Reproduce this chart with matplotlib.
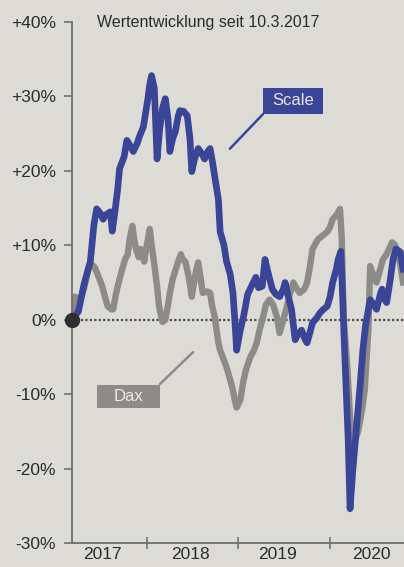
import matplotlib
matplotlib.use("Agg")
import matplotlib.pyplot as plt
from matplotlib.patches import Rectangle
from matplotlib.ticker import FixedLocator, NullFormatter, FixedFormatter

plt.rcParams['font.family'] = ['Liberation Sans', 'DejaVu Sans']

# ---- data (decimal year, % change since 10.3.2017) ----
scale_t = [2017.18, 2017.25, 2017.31, 2017.38, 2017.42, 2017.45, 2017.49, 2017.52, 2017.55, 2017.60,
           2017.62, 2017.65, 2017.68, 2017.70, 2017.75, 2017.78, 2017.81, 2017.85, 2017.89, 2017.92,
           2017.96, 2017.98, 2018.01, 2018.03, 2018.05, 2018.08, 2018.11, 2018.14, 2018.17, 2018.20,
           2018.23, 2018.25, 2018.28, 2018.31, 2018.34, 2018.36, 2018.40, 2018.44, 2018.47, 2018.49,
           2018.52, 2018.56, 2018.60, 2018.63, 2018.67, 2018.69, 2018.72, 2018.74, 2018.78, 2018.80,
           2018.84, 2018.87, 2018.91, 2018.94, 2018.96, 2018.98, 2019.02, 2019.06, 2019.10, 2019.15,
           2019.19, 2019.22, 2019.26, 2019.29, 2019.32, 2019.37, 2019.41, 2019.45, 2019.49, 2019.51,
           2019.54, 2019.58, 2019.62, 2019.65, 2019.69, 2019.73, 2019.75, 2019.78, 2019.81, 2019.86,
           2019.89, 2019.93, 2019.97, 2020.00, 2020.03, 2020.07, 2020.09, 2020.12, 2020.14, 2020.16,
           2020.20, 2020.22, 2020.25, 2020.30, 2020.33, 2020.36, 2020.39, 2020.44, 2020.48, 2020.51,
           2020.55, 2020.57, 2020.60, 2020.62, 2020.66, 2020.69, 2020.72, 2020.77, 2020.80]
scale_v = [0.0, 1.1, 4.7, 7.8, 12.8, 14.9, 14.3, 13.5, 14.1, 14.5,
           11.9, 14.6, 17.6, 20.3, 21.9, 24.1, 23.5, 22.6, 23.6, 24.7,
           25.9, 27.4, 29.7, 31.6, 32.8, 31.1, 21.6, 25.7, 28.4, 29.7,
           27.0, 22.6, 24.3, 25.3, 27.3, 28.1, 28.0, 27.4, 24.3, 19.9,
           21.6, 23.0, 22.3, 21.6, 22.7, 23.0, 20.9, 19.3, 16.2, 11.8,
           10.1, 7.8, 6.1, 3.6, 0.0, -4.1, -1.4, 0.7, 3.4, 4.7,
           5.7, 4.3, 4.5, 8.1, 6.5, 4.1, 3.4, 3.1, 4.1, 5.0,
           3.4, 1.4, -2.7, -2.0, -1.4, -2.7, -3.1, -1.8, -0.4, 0.3,
           0.9, 1.4, 1.8, 3.0, 5.0, 6.8, 8.1, 9.2, 2.7, -4.1,
           -16.2, -25.4, -20.3, -13.1, -8.8, -4.1, -0.7, 2.7, 2.0, 1.4,
           3.4, 4.1, 2.7, 2.3, 5.4, 8.1, 9.5, 9.1, 6.8]

dax_t = [2017.18, 2017.21, 2017.27, 2017.31, 2017.36, 2017.40, 2017.43, 2017.46, 2017.51, 2017.54,
         2017.57, 2017.61, 2017.63, 2017.66, 2017.68, 2017.72, 2017.76, 2017.79, 2017.81, 2017.84,
         2017.86, 2017.88, 2017.91, 2017.93, 2017.97, 2017.99, 2018.02, 2018.03, 2018.05, 2018.08,
         2018.11, 2018.13, 2018.15, 2018.17, 2018.20, 2018.23, 2018.25, 2018.28, 2018.32, 2018.34,
         2018.37, 2018.39, 2018.42, 2018.45, 2018.47, 2018.49, 2018.51, 2018.54, 2018.56, 2018.58,
         2018.61, 2018.66, 2018.69, 2018.71, 2018.74, 2018.78, 2018.80, 2018.84, 2018.87, 2018.91,
         2018.94, 2018.96, 2018.98, 2019.02, 2019.05, 2019.08, 2019.13, 2019.17, 2019.20, 2019.23,
         2019.27, 2019.30, 2019.34, 2019.38, 2019.42, 2019.45, 2019.49, 2019.53, 2019.56, 2019.60,
         2019.64, 2019.67, 2019.72, 2019.75, 2019.78, 2019.81, 2019.85, 2019.87, 2019.91, 2019.97,
         2020.00, 2020.03, 2020.08, 2020.11, 2020.13, 2020.15, 2020.19, 2020.22, 2020.26, 2020.31,
         2020.35, 2020.38, 2020.42, 2020.44, 2020.47, 2020.51, 2020.55, 2020.58, 2020.62, 2020.68,
         2020.71, 2020.73, 2020.77, 2020.80]
dax_v = [0.3, 3.1, 2.7, 4.1, 6.8, 7.4, 7.0, 6.1, 4.5, 3.1,
         1.8, 1.4, 1.4, 3.4, 4.5, 6.4, 8.1, 8.8, 10.8, 12.6,
         10.8, 9.5, 8.4, 9.5, 7.8, 9.5, 11.5, 12.2, 10.1, 7.4,
         4.5, 2.0, 0.7, -0.3, 0.0, 2.0, 3.6, 5.4, 7.0, 7.8,
         8.8, 8.1, 7.8, 6.1, 4.7, 3.1, 4.7, 6.8, 7.7, 6.1,
         3.6, 3.8, 3.6, 2.0, 0.4, -3.1, -4.1, -5.4, -6.4, -8.1,
         -9.5, -10.8, -11.8, -10.8, -8.5, -6.8, -5.0, -4.1, -3.1, -1.4,
         0.4, 2.0, 2.7, 2.0, 0.4, -1.8, 0.0, 1.8, 3.4, 5.0,
         4.1, 3.6, 4.1, 5.0, 7.0, 9.5, 10.4, 10.8, 11.2, 11.8,
         12.4, 13.5, 14.2, 14.9, 10.8, 0.4, -6.4, -13.0, -16.9, -14.9,
         -12.2, -9.5, -1.4, 7.2, 6.1, 5.0, 6.8, 8.1, 8.8, 10.4,
         10.1, 9.5, 7.4, 5.0]

y_ticks = [-30, -20, -10, 0, 10, 20, 30, 40]
y_labels = ['-30%', '-20%', '-10%', '0%', '+10%', '+20%', '+30%', '+40%']
year_ticks = [2018.0, 2019.0, 2020.0]
year_label_pos = [2017.51, 2018.47, 2019.43, 2020.45]
year_labels = ['2017', '2018', '2019', '2020']
title = 'Wertentwicklung seit 10.3.2017'

# ---- style ----
BG = '#dddbd5'
BLUE = '#3b4597'
GREY = '#8c8b88'
TXT = '#2b2b2b'
AX = '#6f6f6f'

W, H = 404, 567
fig = plt.figure(figsize=(W / 100, H / 100), dpi=100, facecolor=BG)
ax = fig.add_axes([72 / W, 1 - 543 / H, 1 - 72 / W, (543 - 22) / H])
ax.set_facecolor(BG)
ax.set_xlim(2017.18, 2020.81)
ax.set_ylim(-30, 40)

for s in ['top', 'right']:
    ax.spines[s].set_visible(False)
for s in ['left', 'bottom']:
    ax.spines[s].set_color(AX)
    ax.spines[s].set_linewidth(1.3)

ax.yaxis.set_major_locator(FixedLocator(y_ticks))
ax.yaxis.set_major_formatter(FixedFormatter(y_labels))
ax.tick_params(axis='y', direction='out', length=6, width=1.2, color=AX,
               labelsize=12.5, labelcolor=TXT, pad=5.5)

ax.xaxis.set_major_locator(FixedLocator(year_ticks))
ax.xaxis.set_major_formatter(NullFormatter())
ax.xaxis.set_minor_locator(FixedLocator(year_label_pos))
ax.xaxis.set_minor_formatter(FixedFormatter(year_labels))
ax.tick_params(axis='x', which='major', direction='inout', length=9, width=1.2, color=AX)
ax.tick_params(axis='x', which='minor', length=0, labelsize=12.5, labelcolor=TXT, pad=3)

# zero line
ax.axhline(0, color='#4a4a4a', lw=1.6, ls=(0, (1, 1)), zorder=1)

# series
ax.plot(dax_t, dax_v, color=GREY, lw=4.6, solid_joinstyle='round', zorder=2)
ax.plot(scale_t, scale_v, color=BLUE, lw=4.8, solid_joinstyle='round', zorder=3)

# start dot
ax.plot([scale_t[0]], [0], 'o', color='#2e2e2e', ms=10, clip_on=False, zorder=6)

# title
ax.text(0.075, 1.0, title, transform=ax.transAxes, ha='left', va='center',
        fontsize=11.5, color=TXT)

# labels with pointers
ax.annotate('', xy=(2018.885, 22.7), xytext=(2019.29, 27.9),
            arrowprops=dict(arrowstyle='-', color=BLUE, lw=1.8), zorder=4)
ax.add_patch(Rectangle((2019.27, 27.7), 0.655, 3.4, fc=BLUE, ec='none', zorder=5))
ax.text(2019.597, 29.4, 'Scale', ha='center', va='center', fontsize=12,
        color='#e8e6f2', zorder=6)

ax.annotate('', xy=(2018.525, -4.1), xytext=(2018.12, -8.9),
            arrowprops=dict(arrowstyle='-', color=GREY, lw=1.8), zorder=4)
ax.add_patch(Rectangle((2017.455, -11.9), 0.69, 3.1, fc=GREY, ec='none', zorder=5))
ax.text(2017.80, -10.35, 'Dax', ha='center', va='center', fontsize=12,
        color='#ecebe7', zorder=6)

fig.savefig('out.png', dpi=100, facecolor=BG)
